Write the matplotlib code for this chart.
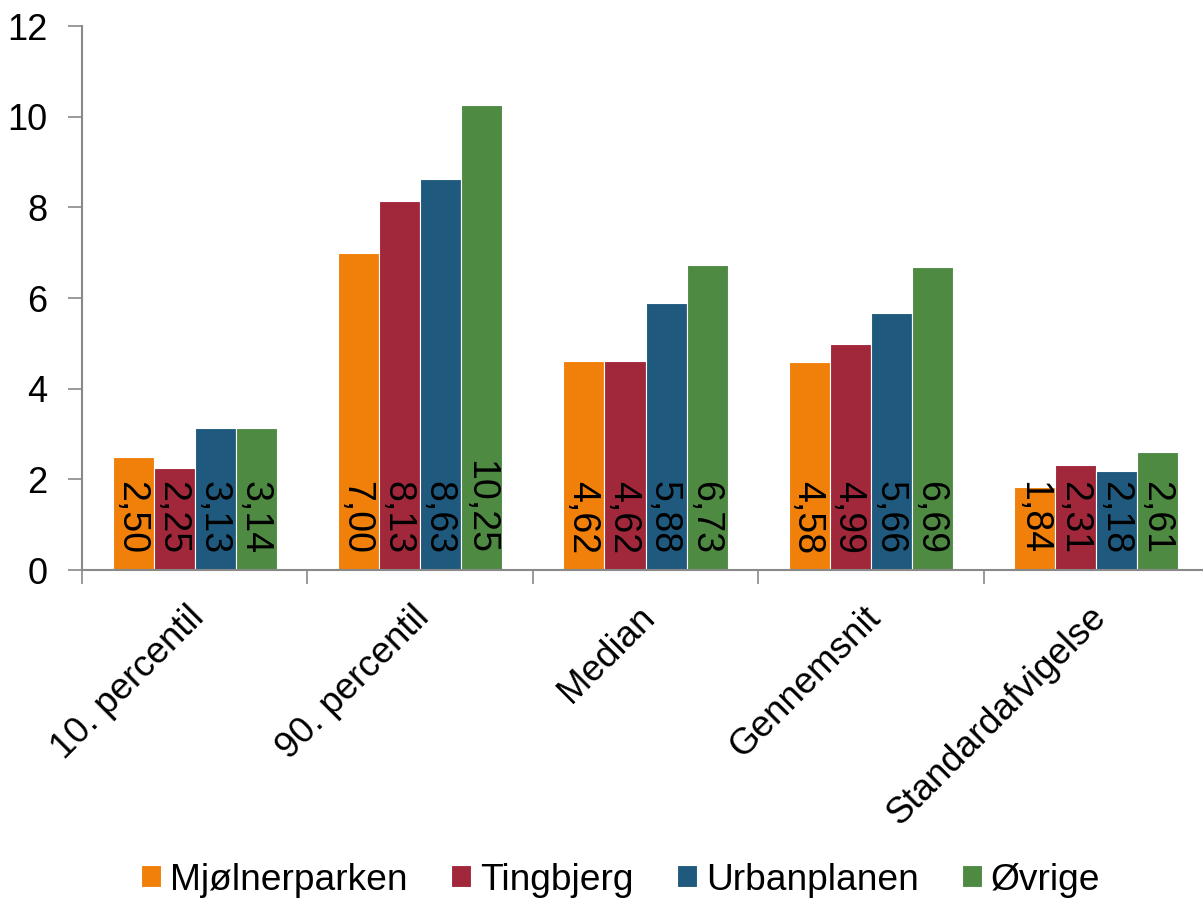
import matplotlib
matplotlib.use("Agg")
import matplotlib.pyplot as plt
import numpy as np
from matplotlib.ticker import FixedLocator

plt.rcParams['font.family'] = ['Liberation Sans', 'DejaVu Sans']

categories = ["10. percentil", "90. percentil", "Median", "Gennemsnit", "Standardafvigelse"]
series_names = ["Mjølnerparken", "Tingbjerg", "Urbanplanen", "Øvrige"]
mjolnerparken = [2.50, 7.00, 4.62, 4.58, 1.84]
tingbjerg = [2.25, 8.13, 4.62, 4.99, 2.31]
urbanplanen = [3.13, 8.63, 5.88, 5.66, 2.18]
ovrige = [3.14, 10.25, 6.73, 6.69, 2.61]
series = [mjolnerparken, tingbjerg, urbanplanen, ovrige]
colors = ["#F0800A", "#A1283A", "#1F5A7E", "#4F8A43"]

fig = plt.figure(figsize=(12.03, 9.01), dpi=100)
ax = fig.add_axes([82/1203, 331/901, (1209-82)/1203, (570-26)/901])

x = np.arange(len(categories))
w = 0.182
for i, (vals, c, name) in enumerate(zip(series, colors, series_names)):
    pos = x + (i - 1.5) * w
    ax.bar(pos, vals, width=w, color=c, edgecolor='white', linewidth=0.8, label=name)
    for p, v in zip(pos, vals):
        ax.annotate(f"{v:.2f}".replace('.', ','), xy=(p, 0), xytext=(-2, 16),
                    textcoords='offset pixels', rotation=270, ha='center', va='bottom',
                    fontsize=27, color='black')

ax.set_xlim(-0.5, len(categories) - 0.5)
ax.set_ylim(0, 12)
ax.set_yticks(range(0, 13, 2))
ax.tick_params(axis='y', labelsize=26, length=10, width=1.2, color='#898989', direction='out', pad=15)
ax.xaxis.set_major_locator(FixedLocator(np.arange(-0.5, len(categories), 1.0)))
ax.set_xticklabels([])
ax.tick_params(axis='x', length=10, width=1.2, color='#898989', direction='out')
for s in ['top', 'right']:
    ax.spines[s].set_visible(False)
for s in ['left', 'bottom']:
    ax.spines[s].set_color('#898989')
    ax.spines[s].set_linewidth(1.5)

for xi, cat in zip(x, categories):
    ax.annotate(cat, xy=(xi, 0), xytext=(-8, -30), textcoords='offset pixels',
                rotation=45, ha='right', va='top', rotation_mode='anchor', fontsize=26.5)

handles, labels = ax.get_legend_handles_labels()
fig.legend(handles, labels, loc='center', bbox_to_anchor=(621/1203, 1 - 880/901), ncol=4,
           frameon=False, fontsize=26.7, handlelength=0.54, handleheight=0.54,
           handletextpad=0.24, columnspacing=1.17)

fig.savefig("out.png", dpi=100)
